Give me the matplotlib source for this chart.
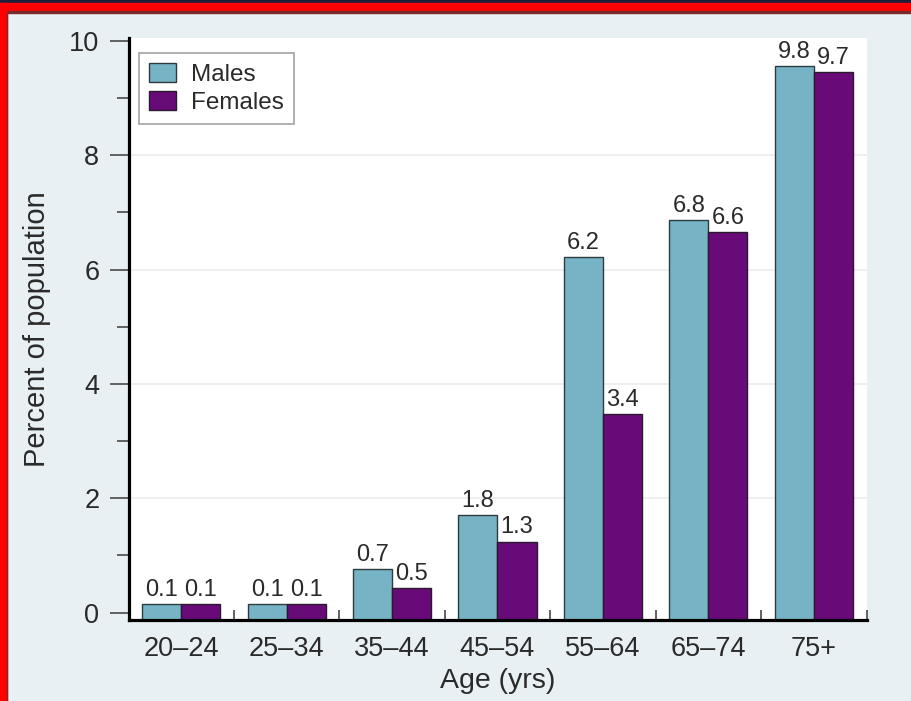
import matplotlib
matplotlib.use("Agg")
import matplotlib.pyplot as plt
from matplotlib.patches import Rectangle
import numpy as np

plt.rcParams['font.family'] = ['Liberation Sans', 'DejaVu Sans']

# ---- data ----
age_groups = ["20\u201324", "25\u201334", "35\u201344", "45\u201354", "55\u201364", "65\u201374", "75+"]
males = [0.15, 0.15, 0.76, 1.71, 6.22, 6.86, 9.56]
females = [0.15, 0.15, 0.43, 1.24, 3.47, 6.65, 9.45]
male_labels = ["0.1", "0.1", "0.7", "1.8", "6.2", "6.8", "9.8"]
female_labels = ["0.1", "0.1", "0.5", "1.3", "3.4", "6.6", "9.7"]
y_ticks = [0, 2, 4, 6, 8, 10]

male_color = "#76b3c4"
female_color = "#690a79"
bg_color = "#e8f0f3"
text_color = "#2a2a2a"

W, H = 911, 701
fig = plt.figure(figsize=(W / 100, H / 100), dpi=100, facecolor=bg_color)
ax = fig.add_axes([128.5 / W, 1 - 619.5 / H, (866.5 - 128.5) / W, (619.5 - 38) / H])
ax.set_facecolor("white")

ybot, ytop = -0.12, 10.05
x = np.arange(len(age_groups))
bw = 0.37
ax.bar(x - bw / 2, np.array(males) - ybot, bottom=ybot, width=bw, color=male_color,
       edgecolor="#2e3a3e", linewidth=1.0, label="Males", zorder=3)
ax.bar(x + bw / 2, np.array(females) - ybot, bottom=ybot, width=bw, color=female_color,
       edgecolor="#2a1a2e", linewidth=1.0, label="Females", zorder=3)

for xi, v, s in zip(x - bw / 2, males, male_labels):
    ax.annotate(s, (xi, v), xytext=(0, 6), textcoords="offset points", ha="center",
                va="baseline", fontsize=17, color=text_color)
for xi, v, s in zip(x + bw / 2, females, female_labels):
    ax.annotate(s, (xi, v), xytext=(0, 6), textcoords="offset points", ha="center",
                va="baseline", fontsize=17, color=text_color)

ax.set_xlim(-0.5, len(age_groups) - 0.5)
ax.set_ylim(ybot, ytop)

# grid
for yv in y_ticks[1:-1]:
    ax.axhline(yv, color="#ececec", linewidth=1.2, zorder=1)

# spines
for s in ["top", "right"]:
    ax.spines[s].set_visible(False)
for s in ["left", "bottom"]:
    ax.spines[s].set_linewidth(2.3)
    ax.spines[s].set_color("black")
    ax.spines[s].set_zorder(4)

# y ticks
ax.set_yticks(y_ticks)
ax.set_yticks(np.arange(1, 10, 2), minor=True)
ax.tick_params(axis="y", which="major", direction="out", length=14, width=1.3,
               color="#555555", labelsize=19.5, labelcolor=text_color, pad=7)
ax.tick_params(axis="y", which="minor", direction="out", length=9, width=1.3, color="#555555")

# x ticks: labels at centers, small inward ticks at group boundaries
ax.set_xticks(x)
ax.set_xticklabels(age_groups)
ax.set_xticks(np.arange(0.5, len(age_groups), 1.0), minor=True)
ax.tick_params(axis="x", which="major", length=0, labelsize=19.5, labelcolor=text_color, pad=12)
ax.tick_params(axis="x", which="minor", direction="in", length=7, width=1.3, color="#555555")

ax.set_ylabel("Percent of population", fontsize=21, color=text_color, labelpad=13)
ax.set_xlabel("Age (yrs)", fontsize=20.5, color=text_color, labelpad=4)

leg = ax.legend(loc="upper left", bbox_to_anchor=(139 / W, 1 - 53 / H),
                bbox_transform=fig.transFigure, borderaxespad=0, fontsize=17.5,
                frameon=True, fancybox=False, handlelength=1.1, handleheight=0.8,
                handletextpad=0.6, labelspacing=0.22, borderpad=0.42)
leg.get_frame().set_edgecolor("#8a8a8a")
leg.get_frame().set_linewidth(1.2)
for t in leg.get_texts():
    t.set_color(text_color)

# red frame decoration
def px_rect(x0, y0, w, h, color):
    fig.patches.append(Rectangle((x0 / W, 1 - (y0 + h) / H), w / W, h / H,
                                 transform=fig.transFigure, color=color, zorder=10))

px_rect(0, 0, W, 3, "#1b1f3a")
px_rect(0, 3, W, 8.5, "#ff0000")
px_rect(0, 11.5, W, 1, "#7a2a2a")
px_rect(0, 3, 6.5, H - 3, "#ff0000")
px_rect(6.5, 11.5, 1, H - 11.5, "#7a2a2a")

fig.savefig("out.png", dpi=100, facecolor=bg_color)
